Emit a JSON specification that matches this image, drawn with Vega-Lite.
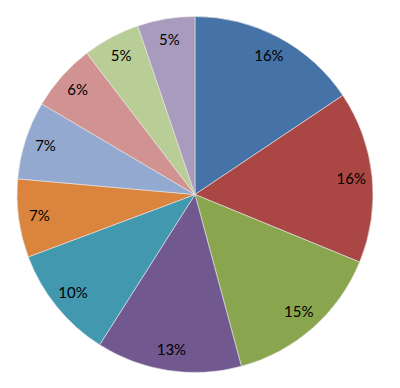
{
  "$schema": "https://vega.github.io/schema/vega-lite/v6.json",
  "width": 390,
  "height": 389,
  "autosize": {"type": "none"},
  "padding": 0,
  "background": "white",
  "view": {"stroke": null},
  "data": {"values": [
    {"i": 1, "cat": "A", "v": 15.6, "label": "16%"},
    {"i": 2, "cat": "B", "v": 15.6, "label": "16%"},
    {"i": 3, "cat": "C", "v": 14.6, "label": "15%"},
    {"i": 4, "cat": "D", "v": 13.2, "label": "13%"},
    {"i": 5, "cat": "E", "v": 10.3, "label": "10%"},
    {"i": 6, "cat": "F", "v": 7.1, "label": "7%"},
    {"i": 7, "cat": "G", "v": 7.1, "label": "7%"},
    {"i": 8, "cat": "H", "v": 6.1, "label": "6%"},
    {"i": 9, "cat": "I", "v": 5.2, "label": "5%"},
    {"i": 10, "cat": "J", "v": 5.2, "label": "5%"}
  ]},
  "encoding": {
    "theta": {"field": "v", "type": "quantitative", "stack": true},
    "order": {"field": "i", "type": "quantitative"},
    "color": {
      "field": "cat", "type": "nominal", "legend": null,
      "scale": {
        "domain": ["A","B","C","D","E","F","G","H","I","J"],
        "range": ["#4572A7","#AA4643","#89A54E","#71588F","#4198AF","#DB843D","#93A9CF","#D19392","#B9CD96","#A99BBD"]
      }
    }
  },
  "layer": [
    {"mark": {"type": "arc", "radius": 178, "stroke": "#e8e8e8", "strokeWidth": 0.6}},
    {
      "mark": {"type": "text", "radius": 157, "font": "Lato", "fontSize": 15},
      "encoding": {
        "text": {"field": "label", "type": "nominal"},
        "color": {"value": "#000000"}
      }
    }
  ]
}
